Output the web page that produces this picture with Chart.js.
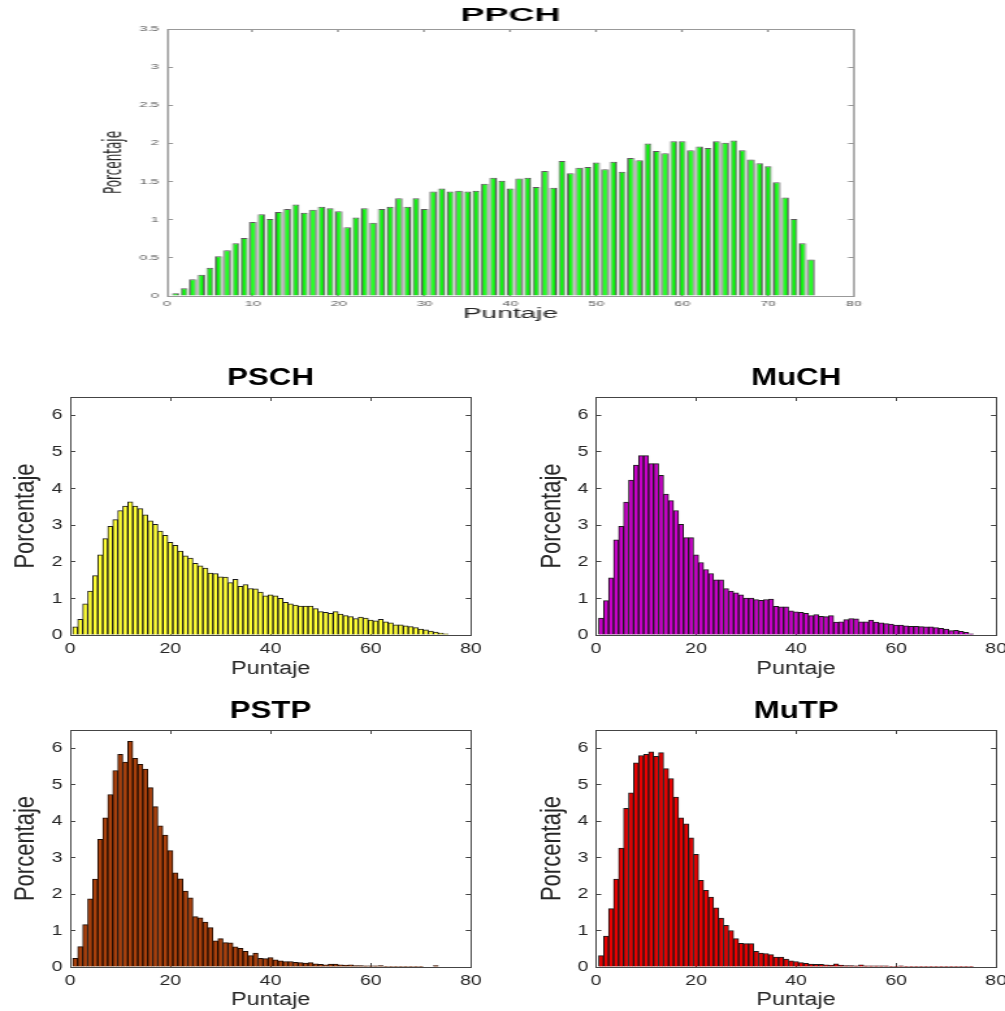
<!DOCTYPE html>
<html>
<head>
<meta charset="utf-8">
<script src="https://cdn.jsdelivr.net/npm/chart.js@4.4.0/dist/chart.umd.min.js"></script>
<style>
  body { margin: 0; background: #fff; }
  #fig { position: relative; width: 1005px; height: 1011px; overflow: hidden; background: #fff; }
  #fig canvas { position: absolute; }
</style>
</head>
<body>
<div id="fig">
  <!-- figures are drawn narrow and stretched sideways by CSS -->
  <canvas id="ppch" width="390" height="335" style="left:95px;top:0px;width:780px;height:335px"></canvas>
  <canvas id="psch" width="377" height="320" style="left:0px;top:360px;width:490px;height:320px"></canvas>
  <canvas id="much" width="373" height="320" style="left:520px;top:360px;width:485px;height:320px"></canvas>
  <canvas id="pstp" width="377" height="331" style="left:0px;top:680px;width:490px;height:331px"></canvas>
  <canvas id="mutp" width="373" height="331" style="left:520px;top:680px;width:485px;height:331px"></canvas>
</div>
<script>
// puntaje (bin) -> porcentaje de casos
const puntaje = [
  1, 2, 3, 4, 5, 6, 7, 8, 9, 10, 11, 12, 13, 14, 15, 16, 17, 18, 19, 20,
  21, 22, 23, 24, 25, 26, 27, 28, 29, 30, 31, 32, 33, 34, 35, 36, 37, 38, 39, 40,
  41, 42, 43, 44, 45, 46, 47, 48, 49, 50, 51, 52, 53, 54, 55, 56, 57, 58, 59, 60,
  61, 62, 63, 64, 65, 66, 67, 68, 69, 70, 71, 72, 73, 74, 75
];

const ppch = [
  0.035, 0.10, 0.22, 0.28, 0.37, 0.52, 0.60, 0.69, 0.76, 0.97,
  1.07, 1.01, 1.10, 1.14, 1.20, 1.09, 1.13, 1.17, 1.15, 1.11,
  0.90, 1.03, 1.15, 0.96, 1.14, 1.17, 1.28, 1.17, 1.28, 1.14,
  1.37, 1.41, 1.37, 1.38, 1.37, 1.38, 1.47, 1.55, 1.51, 1.41,
  1.54, 1.55, 1.43, 1.64, 1.42, 1.77, 1.61, 1.68, 1.69, 1.75,
  1.66, 1.76, 1.63, 1.81, 1.78, 2.00, 1.90, 1.87, 2.03, 2.03,
  1.91, 1.96, 1.94, 2.03, 2.01, 2.04, 1.91, 1.79, 1.74, 1.70,
  1.49, 1.29, 1.01, 0.69, 0.48
];

const psch = [
  0.22, 0.43, 0.85, 1.20, 1.62, 2.19, 2.63, 2.97, 3.15, 3.40,
  3.52, 3.64, 3.52, 3.45, 3.28, 3.12, 3.02, 2.84, 2.72, 2.53,
  2.45, 2.29, 2.16, 2.10, 1.96, 1.89, 1.83, 1.69, 1.68, 1.59,
  1.58, 1.43, 1.52, 1.33, 1.38, 1.27, 1.26, 1.17, 1.07, 1.10,
  1.07, 1.00, 0.89, 0.85, 0.82, 0.79, 0.79, 0.79, 0.72, 0.64,
  0.62, 0.59, 0.64, 0.57, 0.53, 0.50, 0.45, 0.49, 0.46, 0.41,
  0.39, 0.43, 0.36, 0.33, 0.28, 0.28, 0.25, 0.23, 0.20, 0.16,
  0.14, 0.11, 0.08, 0.05, 0.03
];

const much = [
  0.46, 0.94, 1.56, 2.60, 2.97, 3.63, 4.23, 4.64, 4.90, 4.90,
  4.68, 4.68, 4.36, 3.85, 3.67, 3.40, 3.02, 2.66, 2.66, 2.19,
  1.98, 1.79, 1.68, 1.51, 1.51, 1.27, 1.20, 1.15, 1.10, 1.01,
  1.01, 0.97, 0.95, 0.97, 0.98, 0.78, 0.77, 0.77, 0.66, 0.63,
  0.62, 0.59, 0.53, 0.56, 0.51, 0.50, 0.53, 0.35, 0.36, 0.42,
  0.45, 0.44, 0.36, 0.36, 0.41, 0.35, 0.33, 0.31, 0.30, 0.27,
  0.27, 0.25, 0.24, 0.24, 0.23, 0.22, 0.22, 0.20, 0.18, 0.16,
  0.12, 0.13, 0.10, 0.07, 0.03
];

const pstp = [
  0.24, 0.56, 1.16, 1.87, 2.41, 3.50, 4.09, 4.73, 5.39, 5.83,
  5.62, 6.19, 5.72, 5.56, 5.43, 4.92, 4.40, 3.87, 3.62, 3.19,
  2.58, 2.42, 2.08, 1.90, 1.38, 1.35, 1.23, 1.08, 0.72, 0.78,
  0.67, 0.66, 0.55, 0.51, 0.43, 0.31, 0.38, 0.24, 0.23, 0.26,
  0.20, 0.17, 0.15, 0.15, 0.13, 0.12, 0.11, 0.12, 0.09, 0.07,
  0.06, 0.08, 0.08, 0.06, 0.05, 0.06, 0.04, 0.04, 0.03, 0.03,
  0.03, 0.04, 0.02, 0.02, 0.02, 0.02, 0.02, 0.02, 0.02, 0.01,
  0, 0, 0.04, 0, 0
];

const mutp = [
  0.31, 0.85, 1.60, 2.41, 3.26, 4.35, 4.78, 5.60, 5.80, 5.83,
  5.90, 5.78, 5.88, 5.44, 5.17, 4.66, 4.09, 3.93, 3.54, 3.09,
  2.38, 2.10, 1.92, 1.62, 1.34, 1.14, 1.00, 0.78, 0.65, 0.64,
  0.64, 0.43, 0.38, 0.37, 0.34, 0.27, 0.27, 0.22, 0.17, 0.15,
  0.12, 0.10, 0.08, 0.07, 0.07, 0.06, 0.05, 0.09, 0.05, 0.04,
  0.04, 0.03, 0.06, 0.03, 0.03, 0.03, 0.03, 0.03, 0.01, 0.01,
  0.03, 0.02, 0.01, 0.005, 0.005, 0.01, 0.005, 0.005, 0.005, 0.005,
  0.005, 0.005, 0.005, 0.005, 0.005
];

Chart.defaults.font.family = "'Liberation Sans', Arial, Helvetica, sans-serif";

function histograma(id, valores, o) {
  const inner = {
    drawOnChartArea: false, drawTicks: true, tickLength: -o.tick,
    color: o.axisColor, offset: false
  };
  const borde = { display: true, color: o.axisColor, width: 1 };

  new Chart(document.getElementById(id), {
    type: 'bar',
    data: {
      labels: puntaje,
      datasets: [{
        data: valores,
        backgroundColor: o.fill,
        borderColor: o.edge,
        borderWidth: 1,
        borderSkipped: 'start',
        barPercentage: 1,
        categoryPercentage: o.ancho
      }]
    },
    options: {
      responsive: false,
      animation: false,
      devicePixelRatio: 1,
      layout: { padding: { left: 0, right: o.padRight, top: 0, bottom: 0 } },
      plugins: {
        legend: { display: false },
        tooltip: { enabled: false },
        title: {
          display: true, text: o.titulo, fullSize: false, color: '#000',
          font: { size: o.titleSize, weight: 'bold' },
          padding: { top: o.titleTop, bottom: o.titleBottom }
        }
      },
      scales: {
        x: {
          type: 'linear', min: 0, max: 80, offset: false,
          afterFit: s => { s.height = o.xAxisH; s.paddingLeft = 0; s.paddingRight = 0; },
          ticks: {
            stepSize: o.xStep, padding: o.xTickPad, color: o.tickColor,
            font: { size: o.tickSize }, maxRotation: 0, autoSkip: false
          },
          grid: inner,
          border: borde,
          title: {
            display: true, text: 'Puntaje', color: '#262626',
            font: { size: o.xTitleSize }, padding: { top: 0, bottom: o.xTitlePad }
          }
        },
        x2: {
          type: 'linear', position: 'top', min: 0, max: 80, offset: false,
          afterFit: s => { s.height = 0; s.paddingLeft = 0; s.paddingRight = 0; },
          ticks: { display: false, stepSize: o.xStep },
          grid: inner,
          border: borde
        },
        y: {
          min: 0, max: o.yMax,
          afterFit: s => { s.width = o.yAxisW; s.paddingTop = 0; s.paddingBottom = 0; },
          ticks: {
            stepSize: o.yStep, includeBounds: false, padding: o.yTickPad,
            color: o.tickColor, font: { size: o.tickSize },
            callback: v => String(v)
          },
          grid: inner,
          border: borde,
          title: {
            display: true, text: 'Porcentaje', color: '#262626',
            font: { size: o.yTitleSize, family: o.yTitleFamily },
            padding: { top: o.yTitlePad, bottom: 0 }
          }
        },
        y2: {
          position: 'right', min: 0, max: o.yMax,
          afterFit: s => { s.width = 0; s.paddingTop = 0; s.paddingBottom = 0; },
          ticks: { display: false, stepSize: o.yStep, includeBounds: false },
          grid: inner,
          border: borde
        }
      }
    }
  });
}

// panel superior
histograma('ppch', ppch, {
  titulo: 'PPCH', fill: '#00ff00', edge: '#5a5a5a', ancho: 0.84,
  yMax: 3.5, yStep: 0.5, xStep: 10, tick: 3,
  titleSize: 18, titleTop: 5.2, titleBottom: 2.2,
  xAxisH: 39, yAxisW: 36, padRight: 10.5,
  tickSize: 7, tickColor: '#555', axisColor: '#999',
  xTickPad: 6.8, yTickPad: 7,
  xTitleSize: 14, xTitlePad: 12.6,
  yTitleSize: 12, yTitleFamily: "'DejaVu Sans', sans-serif", yTitlePad: 2.8
});

// paneles inferiores
const inferior = {
  ancho: 1, yMax: 6.5, yStep: 1, xStep: 20, tick: 4,
  titleSize: 24, titleBottom: 4.6,
  tickSize: 15, tickColor: '#262626', axisColor: '#444',
  xTickPad: 9, yTickPad: 10,
  xTitleSize: 18, xTitlePad: 0,
  yTitleSize: 22, yTitleFamily: "'Liberation Sans', Arial, sans-serif"
};
const izq = { yAxisW: 54, padRight: 14.7, yTitlePad: 6.8 };
const der = { yAxisW: 58.5, padRight: 6.8, yTitlePad: 11.4 };

histograma('psch', psch, Object.assign({}, inferior, izq, {
  titulo: 'PSCH', fill: '#ffff33', edge: '#1a1a1a', titleTop: 3.6, xAxisH: 45
}));
histograma('much', much, Object.assign({}, inferior, der, {
  titulo: 'MuCH', fill: '#c800c8', edge: '#1a1a1a', titleTop: 3.6, xAxisH: 45
}));
histograma('pstp', pstp, Object.assign({}, inferior, izq, {
  titulo: 'PSTP', fill: '#a8400c', edge: '#1e0c04', titleTop: 16.6, xAxisH: 44
}));
histograma('mutp', mutp, Object.assign({}, inferior, der, {
  titulo: 'MuTP', fill: '#e80000', edge: '#1a1a1a', titleTop: 16.6, xAxisH: 44
}));
</script>
</body>
</html>
